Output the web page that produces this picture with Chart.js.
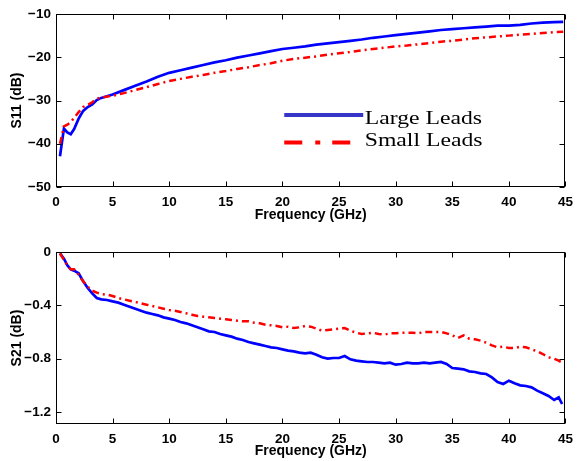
<!DOCTYPE html>
<html><head><meta charset="utf-8">
<script src="https://cdn.jsdelivr.net/npm/chart.js@4"></script>
<style>
html,body{margin:0;padding:0;background:#fff;}
#wrap{position:relative;width:580px;height:461px;background:#fff;}
#c1{position:absolute;left:0;top:0;}
#c2{position:absolute;left:0;top:230px;}
</style></head><body>
<div id="wrap"><canvas id="c1" width="580" height="230"></canvas><canvas id="c2" width="580" height="231"></canvas></div>
<script>
const seriesNames = ['Large Leads', 'Small Leads'];
const xTitle = 'Frequency (GHz)';
const yTitleTop = 'S11 (dB)';
const yTitleBottom = 'S21 (dB)';

const freqS11 = [0.35,0.7,1.0,1.3,1.6,2.0,2.4,2.8,3.2,3.6,4,5,6,7,8,9,10,11,12,13,14,15,16,17,18,19,20,21,22,23,24,25,26,27,28,29,30,31,32,33,34,35,36,37,38,39,40,41,42,43,44,44.8];
const s11Large = [-42.9,-36.5,-37.4,-37.8,-36.6,-34.2,-32.4,-31.5,-30.9,-29.9,-29.4,-28.6,-27.6,-26.6,-25.6,-24.5,-23.6,-23.0,-22.4,-21.8,-21.2,-20.7,-20.1,-19.6,-19.1,-18.6,-18.1,-17.8,-17.5,-17.1,-16.8,-16.5,-16.2,-15.9,-15.5,-15.2,-14.9,-14.6,-14.3,-14.0,-13.7,-13.5,-13.3,-13.1,-12.9,-12.7,-12.7,-12.5,-12.2,-12.0,-11.9,-11.8];
const s11Small = [-40.0,-36.0,-35.6,-35.0,-34.0,-32.7,-31.5,-31.0,-30.4,-29.6,-29.3,-28.9,-28.3,-27.6,-26.9,-26.2,-25.5,-25.0,-24.5,-24.1,-23.6,-23.2,-22.7,-22.3,-21.8,-21.4,-20.8,-20.4,-20.1,-19.8,-19.4,-19.1,-18.8,-18.4,-18.1,-17.8,-17.5,-17.3,-17.0,-16.7,-16.4,-16.2,-15.9,-15.6,-15.4,-15.2,-15.0,-14.8,-14.6,-14.4,-14.2,-14.1];

const freqS21 = [0.35,0.7,1.0,1.3,1.6,2.0,2.4,2.8,3.2,3.6,4.0,4.5,5.0,5.5,6.0,6.5,7.0,7.5,8.0,8.5,9.0,9.5,10,10.5,11,11.5,12,12.5,13,13.5,14,14.5,15,15.5,16,16.5,17,17.5,18,18.5,19,19.5,20,20.5,21,21.5,22,22.5,23,23.5,24,24.5,25,25.5,26,26.5,27,27.5,28,28.5,29,29.5,30,30.5,31,31.5,32,32.5,33,33.5,34,34.5,35,35.5,36,36.5,37,37.5,38,38.5,39,39.5,40,40.5,41,41.5,42,42.5,43,43.5,44,44.4,44.7];
const s21Large = [-0.01,-0.05,-0.10,-0.13,-0.14,-0.16,-0.22,-0.27,-0.31,-0.345,-0.355,-0.36,-0.37,-0.38,-0.395,-0.41,-0.425,-0.44,-0.455,-0.465,-0.475,-0.49,-0.50,-0.51,-0.525,-0.535,-0.55,-0.565,-0.58,-0.595,-0.60,-0.615,-0.625,-0.635,-0.65,-0.66,-0.675,-0.685,-0.695,-0.705,-0.715,-0.72,-0.73,-0.74,-0.745,-0.755,-0.76,-0.755,-0.77,-0.79,-0.80,-0.795,-0.795,-0.78,-0.805,-0.815,-0.82,-0.825,-0.825,-0.83,-0.835,-0.83,-0.845,-0.84,-0.83,-0.835,-0.835,-0.83,-0.835,-0.83,-0.825,-0.84,-0.87,-0.875,-0.88,-0.895,-0.90,-0.91,-0.915,-0.94,-0.975,-0.99,-0.965,-0.985,-1.0,-1.005,-1.015,-1.04,-1.06,-1.08,-1.11,-1.09,-1.14];
const s21Small = [-0.01,-0.06,-0.10,-0.13,-0.13,-0.17,-0.22,-0.26,-0.29,-0.305,-0.315,-0.32,-0.33,-0.345,-0.355,-0.365,-0.375,-0.385,-0.395,-0.405,-0.415,-0.425,-0.435,-0.44,-0.45,-0.46,-0.47,-0.48,-0.485,-0.49,-0.495,-0.50,-0.505,-0.51,-0.515,-0.52,-0.52,-0.53,-0.535,-0.545,-0.55,-0.555,-0.565,-0.56,-0.57,-0.565,-0.555,-0.56,-0.575,-0.59,-0.585,-0.58,-0.575,-0.57,-0.59,-0.605,-0.615,-0.61,-0.605,-0.615,-0.62,-0.61,-0.61,-0.605,-0.605,-0.605,-0.61,-0.60,-0.60,-0.60,-0.60,-0.61,-0.625,-0.645,-0.625,-0.65,-0.655,-0.665,-0.68,-0.70,-0.715,-0.71,-0.72,-0.72,-0.71,-0.715,-0.73,-0.745,-0.765,-0.79,-0.80,-0.815,-0.83];

const xTicks = [0,5,10,15,20,25,30,35,40,45];
const s11Ticks = [-50,-40,-30,-20,-10];
const s21Ticks = [-1.2,-0.8,-0.4,0];

const blue = '#0000ff', red = '#ff0000';
const redDash = [7,4,2,4];
const tickFont = {family:'"Liberation Sans", Arial, sans-serif', size:13.5, weight:'bold'};
const titleFont = {family:'"Liberation Sans", Arial, sans-serif', size:14, weight:'bold'};

function fmt(v){ return String(v).replace('-', '\u2212'); }
function pts(xs, ys){ return xs.map((x,i)=>({x:x, y:ys[i]})); }

const framePlugin = {
  id:'frame',
  afterDraw(chart){
    const {ctx, chartArea:a, scales} = chart;
    const xs = scales.x, ys = scales.y;
    ctx.save();
    ctx.strokeStyle = '#000'; ctx.lineWidth = 1;
    const L = Math.round(a.left)+0.5, R = Math.round(a.right)-0.5, T = Math.round(a.top)+0.5, B = Math.round(a.bottom)-0.5;
    ctx.strokeRect(L, T, R-L, B-T);
    ctx.beginPath();
    xs.ticks.forEach(t=>{
      const p = Math.round(xs.getPixelForValue(t.value))+0.5;
      ctx.moveTo(p, B); ctx.lineTo(p, B-5);
      ctx.moveTo(p, T); ctx.lineTo(p, T+5);
    });
    ys.ticks.forEach(t=>{
      const p = Math.round(ys.getPixelForValue(t.value))+0.5;
      ctx.moveTo(L, p); ctx.lineTo(L+5, p);
      ctx.moveTo(R, p); ctx.lineTo(R-5, p);
    });
    ctx.stroke();
    ctx.restore();
  }
};

const legendPlugin = {
  id:'insideLegend',
  afterDraw(chart, args, opts){
    if(!opts.show) return;
    const {ctx, chartArea:a} = chart;
    const W = a.right-a.left, H = a.bottom-a.top;
    const x0 = a.left + W*0.448, x1 = a.left + W*0.603, tx = a.left + W*0.606;
    const rows = [
      {y: a.top + H*0.584, base: a.top + H*0.636, color:'#3535c8', dash:[], label: chart.data.datasets[0].label},
      {y: a.top + H*0.743, base: a.top + H*0.763, color:red, dash:[18,13,5,12], label: chart.data.datasets[1].label}
    ];
    ctx.save();
    rows.forEach(r=>{
      ctx.beginPath();
      ctx.setLineDash(r.dash);
      ctx.strokeStyle = r.color; ctx.lineWidth = 4;
      ctx.moveTo(x0, r.y); ctx.lineTo(x1, r.y); ctx.stroke();
      ctx.setLineDash([]);
      ctx.save();
      ctx.translate(tx, r.base);
      ctx.scale(1.28, 1);
      ctx.fillStyle = '#000';
      ctx.font = '18.5px "Liberation Serif", "Times New Roman", serif';
      ctx.textBaseline = 'alphabetic';
      ctx.fillText(r.label, 0, 0);
      ctx.restore();
    });
    ctx.restore();
  }
};

function makeChart(canvas, xs, large, small, yTicks, ymin, ymax, yTitle, padTop, xHeight, xTitlePad, showLegend){
  return new Chart(canvas, {
    type:'line',
    data:{datasets:[
      {label:seriesNames[0], data:pts(xs, large), borderColor:blue, borderWidth:2.7, pointRadius:0, fill:false, tension:0, order:2},
      {label:seriesNames[1], data:pts(xs, small), borderColor:red, borderWidth:2.5, borderDash:redDash, pointRadius:0, fill:false, tension:0, order:1}
    ]},
    options:{
      responsive:false, animation:false, devicePixelRatio:1,
      layout:{padding:{top:padTop, right:8, left:0, bottom:0}},
      plugins:{legend:{display:false}, tooltip:{enabled:false}, insideLegend:{show:showLegend}},
      scales:{
        x:{type:'linear', min:0, max:45,
          afterBuildTicks(s){ s.ticks = xTicks.map(v=>({value:v})); },
          afterFit(s){ s.height = xHeight; },
          grid:{display:false, drawTicks:false}, border:{display:false},
          ticks:{font:tickFont, color:'#000', padding:7, autoSkip:false, maxRotation:0, callback:v=>fmt(v)},
          title:{display:true, text:xTitle, font:titleFont, color:'#000', padding:{top:0, bottom:xTitlePad}}
        },
        y:{type:'linear', min:ymin, max:ymax,
          afterBuildTicks(s){ s.ticks = yTicks.map(v=>({value:v})); },
          afterFit(s){ s.width = 56; },
          grid:{display:false, drawTicks:false}, border:{display:false},
          ticks:{font:tickFont, color:'#000', padding:5, autoSkip:false, callback:v=>fmt(v)},
          title:{display:true, text:yTitle, font:titleFont, color:'#000', padding:{top:9, bottom:0}}
        }
      }
    },
    plugins:[framePlugin, legendPlugin]
  });
}

makeChart(document.getElementById('c1'), freqS11, s11Large, s11Small, s11Ticks, -50, -10, yTitleTop, 14, 43, 6.5, true);
makeChart(document.getElementById('c2'), freqS21, s21Large, s21Small, s21Ticks, -1.29, 0, yTitleBottom, 22, 37, 1, false);
</script>
</body></html>
